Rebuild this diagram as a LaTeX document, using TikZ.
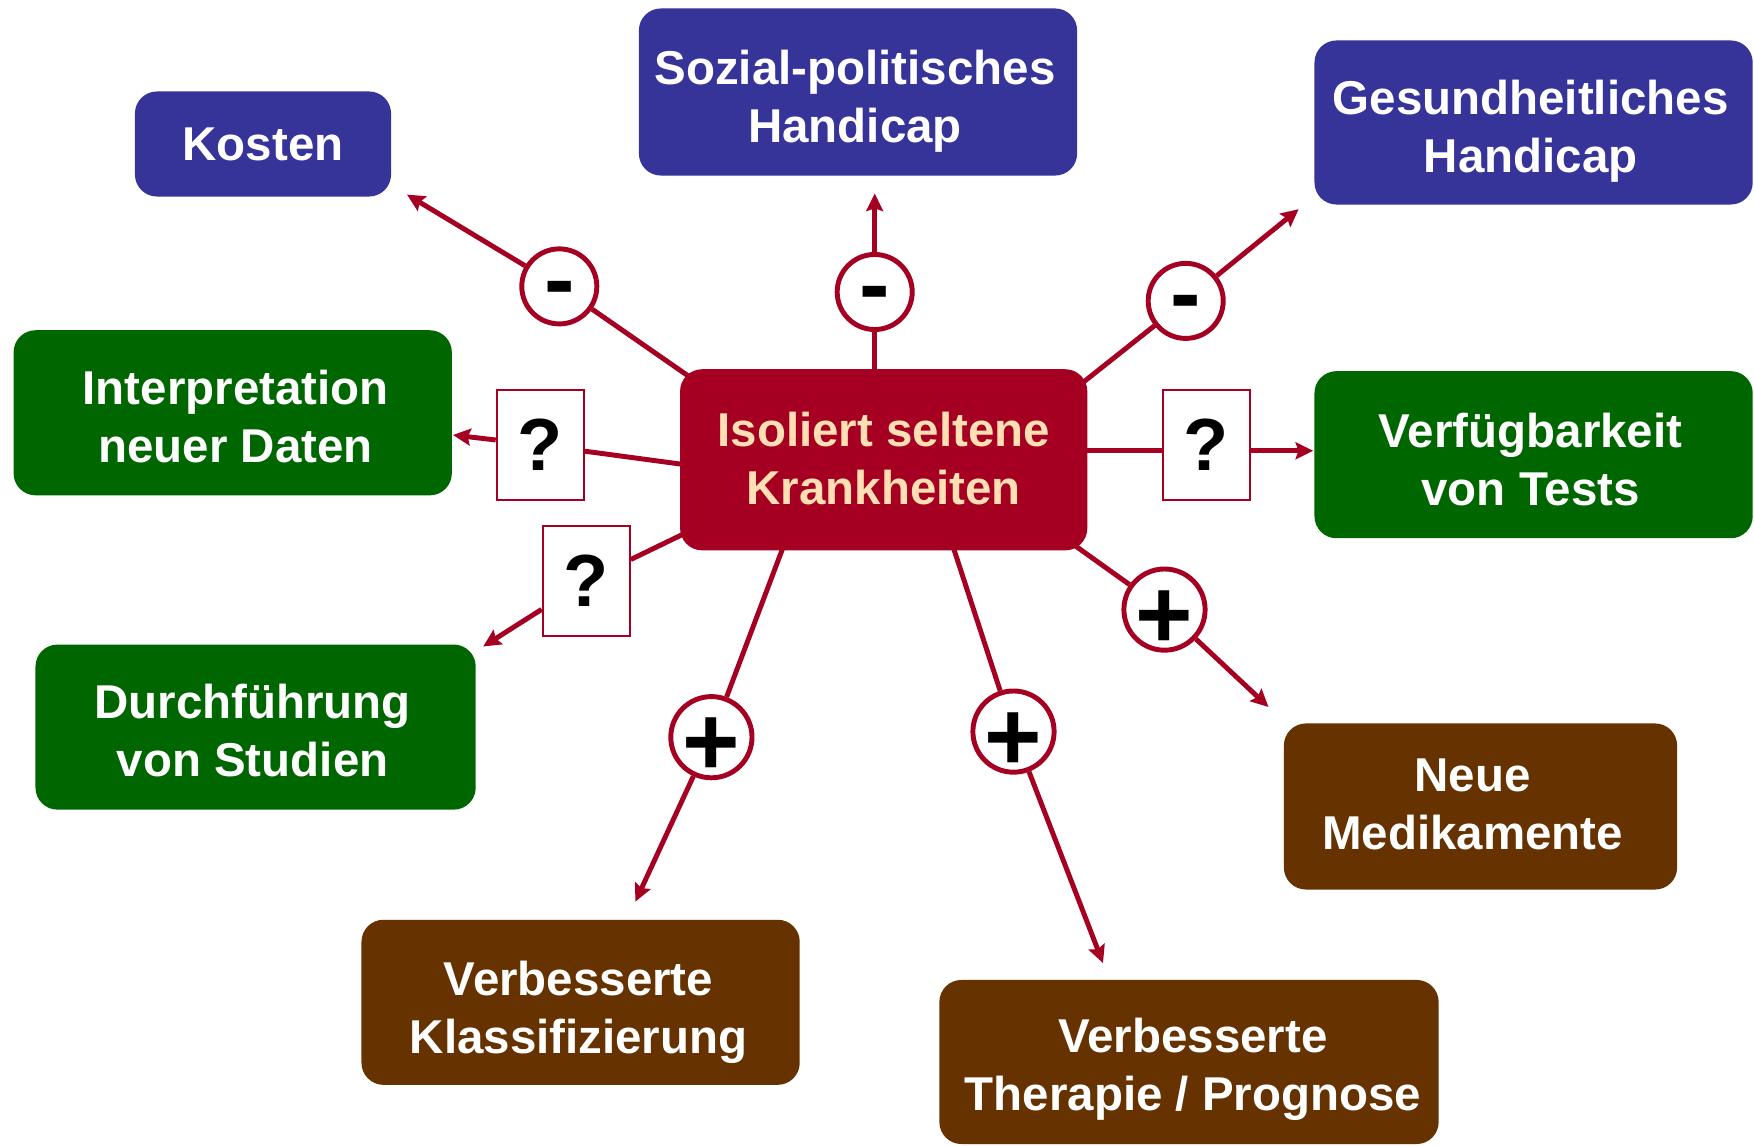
\documentclass[tikz,border=0pt]{standalone}
\usepackage{fontspec}
\setmainfont{Liberation Sans}
\usetikzlibrary{arrows.meta}
\pgfdeclarelayer{bg}
\pgfsetlayers{bg,main}
\definecolor{cblue}{HTML}{363399}
\definecolor{cgreen}{HTML}{006600}
\definecolor{cbrown}{HTML}{663300}
\definecolor{cred}{HTML}{A50021}
\definecolor{cpeach}{HTML}{FFDFB3}
\newcommand{\lowerby}[2]{\raisebox{#1}[\height][\depth]{#2}}
\begin{document}
\begin{tikzpicture}[x=0.01cm,y=-0.01cm,
  box/.style={rounded corners=0.22cm, inner sep=0pt},
  bluebox/.style={box, fill=cblue},
  greenbox/.style={box, fill=cgreen},
  brownbox/.style={box, fill=cbrown},
  centerbox/.style={box, fill=cred},
  txt/.style={inner sep=0pt, align=center, text=white,
    font=\fontsize{13.5}{16.5}\selectfont\bfseries},
  ctxt/.style={txt, text=cpeach},
  sign/.style={circle, draw=cred, line width=1.4pt, fill=white, minimum size=0.75cm, inner sep=0pt},
  minus/.style={sign, font=\fontsize{26}{26}\selectfont\bfseries},
  plus/.style={sign, font=\fontsize{28}{28}\selectfont\bfseries},
  qbox/.style={rectangle, draw=cred, line width=0.6pt, fill=white, minimum width=0.87cm, minimum height=1.1cm, inner sep=0pt,
    font=\fontsize{21}{21}\selectfont\bfseries},
  link/.style={draw=cred, line width=1.4pt},
  arr/.style={link, -{Stealth[length=5pt,width=4.8pt,inset=0.8pt]}}
]
\useasboundingbox (0,0) rectangle (1754,1146);

% boxes
\node[bluebox, minimum width=2.56cm, minimum height=1.05cm] (kosten) at (263,144) {};
\node[txt] (kostent) at (263,144) {Kosten};
\node[bluebox, minimum width=4.38cm, minimum height=1.67cm] (sozial) at (858,92) {};
\node[txt] (sozialt) at (855,101) {Sozial-politisches\\Handicap};
\node[bluebox, minimum width=4.38cm, minimum height=1.64cm] (gesund) at (1533.6,122.5) {};
\node[txt] (gesundt) at (1530.6,131.5) {Gesundheitliches\\Handicap};
\node[greenbox, minimum width=4.38cm, minimum height=1.65cm] (interp) at (232.7,412.8) {};
\node[txt] (interpt) at (235.7,416.8) {Interpretation\\neuer Daten};
\node[centerbox, minimum width=4.07cm, minimum height=1.81cm] (center) at (883.7,459.8) {};
\node[ctxt] (centert) at (883.7,459) {Isoliert seltene\\Krankheiten};
\node[greenbox, minimum width=4.38cm, minimum height=1.67cm] (verf) at (1533.6,454.7) {};
\node[txt] (verft) at (1530.6,459.2) {Verfügbarkeit\\von Tests};
\node[greenbox, minimum width=4.40cm, minimum height=1.65cm] (durch) at (255.6,727.1) {};
\node[txt] (durcht) at (252.6,730.1) {Durchführung\\von Studien};
\node[brownbox, minimum width=3.93cm, minimum height=1.66cm] (neue) at (1480.5,806.5) {};
\node[txt] (neuet) at (1472.5,804.5) {Neue\\Medikamente};
\node[brownbox, minimum width=4.38cm, minimum height=1.65cm] (klass) at (580.6,1002.3) {};
\node[txt] (klasst) at (578.6,1012.3) {Verbesserte\\Klassifizierung};
\node[brownbox, minimum width=4.99cm, minimum height=1.64cm] (thera) at (1189,1062) {};
\node[txt] (therat) at (1193,1069) {Verbesserte\\Therapie / Prognose};

% markers
\node[minus] (m1) at (559.3,286.4) {\lowerby{-2.6pt}{-}};
\node[minus] (m2) at (874.7,292) {\lowerby{-2.6pt}{-}};
\node[minus] (m3) at (1185.7,300.9) {\lowerby{-2.6pt}{-}};
\node[qbox] (q1) at (540.3,445.2) {?};
\node[qbox] (q2) at (586.2,581.1) {?};
\node[qbox] (q3) at (1206.4,445.2) {?};
\node[plus] (m7) at (1164.5,609.6) {\lowerby{-2.8pt}{+}};
\node[plus] (m8) at (711.4,737.2) {\lowerby{-2.8pt}{+}};
\node[plus] (m9) at (1013.5,731.6) {\lowerby{-2.8pt}{+}};

% start points (inside the central box) and arrow ends
\coordinate (s1) at (720,398);
\coordinate (s2) at (874.7,400);
\coordinate (s3) at (1060,400.7);
\coordinate (s4) at (700,466.7);
\coordinate (s5) at (700,526);
\coordinate (s6) at (1070,450.8);
\coordinate (s7) at (1050,527.8);
\coordinate (s8) at (790,529);
\coordinate (s9) at (947.6,530);
\coordinate (t1) at (407,194.6);
\coordinate (t2) at (874.7,193.5);
\coordinate (t3) at (1298.7,209.2);
\coordinate (t4) at (453,435);
\coordinate (t5) at (483.2,646.5);
\coordinate (t6) at (1313.2,450.8);
\coordinate (t7) at (1268.5,707);
\coordinate (t8) at (635.4,901.6);
\coordinate (t9) at (1103,963.1);

\begin{pgfonlayer}{bg}
\draw[link] (s1) -- (m1); \draw[arr] (m1) -- (t1);
\draw[link] (s2) -- (m2); \draw[arr] (m2) -- (t2);
\draw[link] (s3) -- (m3); \draw[arr] (m3) -- (t3);
\draw[link] (s4) -- (q1); \draw[arr] (q1) -- (t4);
\draw[link] (s5) -- (q2); \draw[arr] (q2) -- (t5);
\draw[link] (s6) -- (s6 -| q3.east); \draw[arr] (s6 -| q3.east) -- (t6);
\draw[link] (s7) -- (m7); \draw[arr] (m7) -- (t7);
\draw[link] (s8) -- (m8); \draw[arr] (m8) -- (t8);
\draw[link] (s9) -- (m9); \draw[arr] (m9) -- (t9);
\end{pgfonlayer}
\end{tikzpicture}
\end{document}
